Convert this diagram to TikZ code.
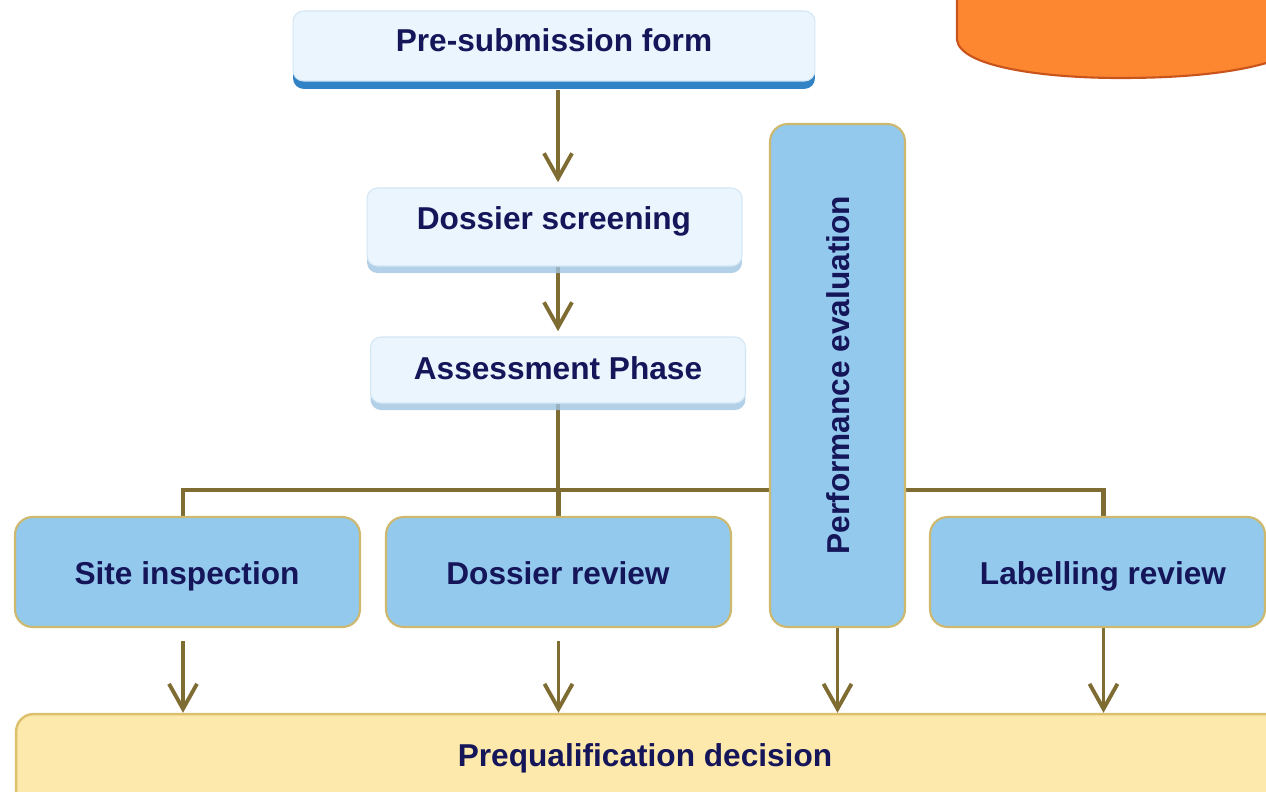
\documentclass[tikz,border=0pt]{standalone}
\usepackage{fontspec}
\setmainfont{Liberation Sans}
\usetikzlibrary{arrows.meta,shadows}
\definecolor{inkNavy}{HTML}{15155A}
\definecolor{olive}{HTML}{7F6C33}
\definecolor{paleFill}{HTML}{EAF5FD}
\definecolor{paleEdge}{HTML}{D3E6F4}
\definecolor{skyFill}{HTML}{93C9EC}
\definecolor{goldEdge}{HTML}{CDB86E}
\definecolor{creamFill}{HTML}{FDE9AC}
\definecolor{creamEdge}{HTML}{DCC06C}
\definecolor{orangeFill}{HTML}{FD8630}
\definecolor{orangeEdge}{HTML}{C9541B}
\definecolor{deepBlue}{HTML}{1C76C0}
\definecolor{softBlue}{HTML}{9FC4E2}
\pgfdeclarelayer{background}
\pgfsetlayers{background,main}
\tikzset{
  label text/.style={font=\bfseries\fontsize{18}{20}\selectfont, text=inkNavy, inner sep=0pt, anchor=base},
  stagebox/.style={draw=paleEdge, line width=0.6pt, fill=paleFill, rounded corners=6pt, inner sep=0pt},
  taskbox/.style={draw=goldEdge, line width=1.2pt, fill=skyFill, rounded corners=10pt, inner sep=0pt},
  outcomebox/.style={draw=creamEdge, line width=1.4pt, fill=creamFill, rounded corners=10pt, inner sep=0pt},
  flow/.style={draw=olive, line width=2.2pt, -{Straight Barb[length=0.5cm, width=0.56cm, line width=2.2pt]}},
  bus/.style={draw=olive, line width=2.8pt},
}
\begin{document}
\begin{tikzpicture}[x=0.02cm, y=-0.02cm]
\useasboundingbox (0,0) rectangle (1266,791);
\clip (0,0) rectangle (1266,791);

% orange tab in the top right corner
\filldraw[fill=orangeFill, draw=orangeEdge, line width=1.2pt]
  (957,-20) -- (957,40) .. controls (960,66) and (1040,78) .. (1120,78)
  .. controls (1200,78) and (1262,70) .. (1300,50) -- (1300,-20) -- cycle;

% upper stages
\node[stagebox, minimum width=10.44cm, minimum height=1.4cm,
      drop shadow={shadow xshift=0pt, shadow yshift=-4.5pt, fill=deepBlue, opacity=0.9}]
  (pre) at (554,46) {};
\node[label text] (preT) at (554,51) {Pre-submission form};

\node[stagebox, minimum width=7.5cm, minimum height=1.56cm,
      drop shadow={shadow xshift=0pt, shadow yshift=-4pt, fill=softBlue, opacity=0.8}]
  (scr) at (554.5,227) {};
\node[label text] (scrT) at (554,229) {Dossier screening};

\node[stagebox, minimum width=7.5cm, minimum height=1.32cm,
      drop shadow={shadow xshift=0pt, shadow yshift=-4pt, fill=softBlue, opacity=0.8}]
  (asm) at (558,370) {};
\node[label text] (asmT) at (558,379) {Assessment Phase};

% parallel tasks
\node[taskbox, minimum width=6.9cm, minimum height=2.2cm] (site) at (187.5,572) {};
\node[label text] (siteT) at (187,584) {Site inspection};

\node[taskbox, minimum width=6.9cm, minimum height=2.2cm] (drev) at (558.5,572) {};
\node[label text] (drevT) at (558,584) {Dossier review};

\node[taskbox, minimum width=2.7cm, minimum height=10.06cm] (perf) at (837.5,375.5) {};
\node[label text, anchor=center, rotate=90] (perfT) at (838,375) {Performance evaluation};

\node[taskbox, minimum width=6.7cm, minimum height=2.2cm] (lab) at (1097.5,572) {};
\node[label text] (labT) at (1103,584) {Labelling review};

% final decision
\node[outcomebox, minimum width=25.68cm, minimum height=2.32cm] (preq) at (658,772) {};
\node[label text] (preqT) at (645,766) {Prequalification decision};

% junction points of the distribution bus
\coordinate (fork) at (558,490);
\coordinate (siteTap) at ([xshift=-4.5*0.02cm]site.north);
\coordinate (labTap) at ([xshift=6*0.02cm]lab.north);

\begin{pgfonlayer}{background}
  \draw[flow, shorten <=5pt, shorten >=3pt] (pre.south -| asm) -- (scr.north -| asm);
  \draw[flow, shorten >=3pt] (scr.south -| asm) -- (asm.north);
  \draw[bus] (asm.south) -- (fork);
  \draw[bus] (siteTap) |- (fork) -| (labTap);
  \draw[bus] (drev.north) -- (drev.north |- fork);
  \draw[flow, shorten <=0.26cm] ([xshift=-4.5*0.02cm]site.south) -- ([xshift=-4.5*0.02cm]site.south |- preq.north);
  \draw[flow, shorten <=0.26cm] (drev.south) -- (drev.south |- preq.north);
  \draw[flow] (perf.south) -- (perf.south |- preq.north);
  \draw[flow] ([xshift=6*0.02cm]lab.south) -- ([xshift=6*0.02cm]lab.south |- preq.north);
\end{pgfonlayer}
\end{tikzpicture}
\end{document}
